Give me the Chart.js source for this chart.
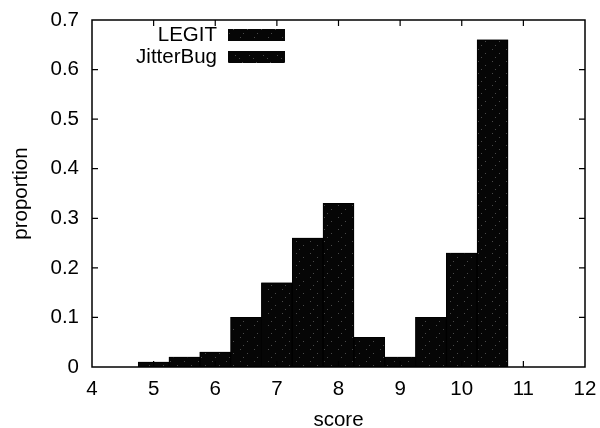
<!DOCTYPE html>
<html>
<head>
<meta charset="utf-8">
<script src="https://cdn.jsdelivr.net/npm/chart.js@4/dist/chart.umd.min.js"></script>
<style>
  html, body { margin: 0; padding: 0; background: #fff; }
  #wrap { width: 600px; height: 428px; }
</style>
</head>
<body>
<div id="wrap"><canvas id="hist"></canvas></div>
<script>
// bin centres (score) and the share of runs falling in each bin
const binCentres   = [5, 5.5, 6, 6.5, 7, 7.5, 8, 8.5, 9, 9.5, 10, 10.5];
const legitShare   = [0.01, 0.02, 0.03, 0.10, 0.17, 0.26, 0.33, 0.06, 0.02, 0.10, 0.23, 0.66];
const jitterShare  = [0.01, 0.02, 0.03, 0.10, 0.17, 0.26, 0.33, 0.06, 0.02, 0.10, 0.23, 0.66];
const seriesNames  = ['LEGIT', 'JitterBug'];
const xTickValues  = [4, 5, 6, 7, 8, 9, 10, 11, 12];
const yTickValues  = [0, 0.1, 0.2, 0.3, 0.4, 0.5, 0.6, 0.7];
const yTickLabels  = ['0', '0.1', '0.2', '0.3', '0.4', '0.5', '0.6', '0.7'];

const FONT = 'Liberation Sans, Arial, sans-serif';
const SIZE = 20.5;

// speckled near-black fill, like a halftoned print
function speckle(dots) {
  const c = document.createElement('canvas');
  c.width = 14; c.height = 12;
  const g = c.getContext('2d');
  g.fillStyle = '#060606';
  g.fillRect(0, 0, 14, 12);
  g.fillStyle = '#4a4a4a';
  dots.forEach(([x, y]) => g.fillRect(x, y, 1, 1));
  return g.createPattern(c, 'repeat');
}
const fillA = speckle([[2, 1], [9, 5], [5, 9]]);
const fillB = speckle([[4, 2], [11, 7], [1, 10]]);

const toPoints = vals => vals.map((v, i) => ({ x: binCentres[i], y: v }));

// gnuplot-style inward ticks on all four sides, box border and inset key
const frame = {
  id: 'frame',
  afterDraw(chart) {
    const { ctx, chartArea: a, scales: { x, y } } = chart;
    const t = 6;
    ctx.save();
    ctx.strokeStyle = '#000';
    ctx.lineWidth = 1.5;
    ctx.strokeRect(a.left, a.top, a.right - a.left, a.bottom - a.top);
    ctx.lineWidth = 1.2;
    ctx.beginPath();
    xTickValues.slice(1, -1).forEach(v => {
      const px = x.getPixelForValue(v);
      ctx.moveTo(px, a.bottom); ctx.lineTo(px, a.bottom - t);
      ctx.moveTo(px, a.top); ctx.lineTo(px, a.top + t);
    });
    yTickValues.slice(1, -1).forEach(v => {
      const py = y.getPixelForValue(v);
      ctx.moveTo(a.left, py); ctx.lineTo(a.left + t, py);
      ctx.moveTo(a.right, py); ctx.lineTo(a.right - t, py);
    });
    ctx.stroke();

    // key
    ctx.font = SIZE + 'px ' + FONT;
    ctx.textAlign = 'right';
    ctx.textBaseline = 'middle';
    chart.data.datasets.forEach((ds, i) => {
      const cy = 35 + i * 22;
      ctx.fillStyle = '#000';
      ctx.fillText(ds.label, 217, cy);
      ctx.fillStyle = ds.backgroundColor;
      ctx.fillRect(228, cy - 6, 57, 12);
    });
    ctx.restore();
  }
};

// keep the plot box fixed: no extra room reserved for overhanging tick labels
const noOverhang = s => {
  s.paddingLeft = 0; s.paddingRight = 0; s.paddingTop = 0; s.paddingBottom = 0;
};

new Chart(document.getElementById('hist'), {
  type: 'bar',
  data: {
    datasets: [
      { label: seriesNames[0], data: toPoints(legitShare), backgroundColor: fillA },
      { label: seriesNames[1], data: toPoints(jitterShare), backgroundColor: fillB }
    ]
  },
  options: {
    responsive: true,
    maintainAspectRatio: false,
    animation: false,
    layout: { padding: { top: 20, right: 15, left: 0, bottom: 0 } },
    datasets: {
      bar: {
        grouped: false,
        barPercentage: 1,
        categoryPercentage: 1,
        borderWidth: 1,
        borderColor: '#000',
        borderSkipped: false
      }
    },
    plugins: { legend: { display: false }, tooltip: { enabled: false } },
    scales: {
      x: {
        type: 'linear',
        min: 4,
        max: 12,
        offset: false,
        grid: { display: false, drawTicks: false },
        border: { display: false },
        afterBuildTicks: s => { s.ticks = xTickValues.map(v => ({ value: v })); },
        afterFit: s => { s.height = 61; noOverhang(s); },
        ticks: { color: '#000', padding: 10, maxRotation: 0, font: { family: FONT, size: SIZE } },
        title: {
          display: true, text: 'score', color: '#000',
          padding: 0, font: { family: FONT, size: SIZE, lineHeight: 0.75 }
        }
      },
      y: {
        min: 0,
        max: 0.7,
        grid: { display: false, drawTicks: false },
        border: { display: false },
        afterBuildTicks: s => { s.ticks = yTickValues.map(v => ({ value: v })); },
        afterFit: s => { s.width = 92; noOverhang(s); },
        ticks: {
          color: '#000', padding: 13, font: { family: FONT, size: SIZE },
          callback: (v, i) => yTickLabels[i]
        },
        title: {
          display: true, text: 'proportion', color: '#000',
          padding: { top: 9, bottom: 0 }, font: { family: FONT, size: SIZE }
        }
      }
    }
  },
  plugins: [frame]
});
</script>
</body>
</html>
